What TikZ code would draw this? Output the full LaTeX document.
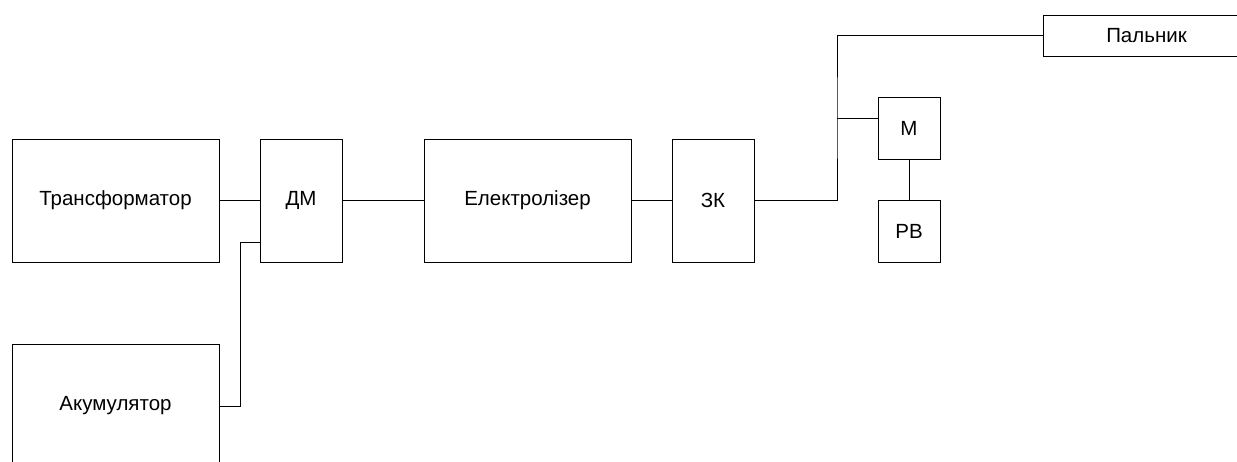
\documentclass[tikz,border=0pt]{standalone}
\usepackage{fontspec}
\setmainfont{Liberation Sans}
\usetikzlibrary{positioning}

\begin{document}
\begin{tikzpicture}[
          x=1pt, y=-1pt,
          font=\fontsize{20.5}{23}\selectfont,
          block/.style={draw, line width=1pt, minimum width=207pt, minimum height=123pt, inner sep=0pt, outer sep=0pt, anchor=center},
          narrow/.style={block, minimum width=82pt},
          square/.style={block, minimum width=62pt, minimum height=62pt},
          wire/.style={line width=1pt}
        ]
        \useasboundingbox (0,0) rectangle (1237,461);
        \clip (0,0) rectangle (1237,461);

        % -------- Main chain --------
        \node[block] (trans) at (115.5,200.5) {Трансформатор};
        \node[narrow, right=41pt of trans] (dm) {ДМ};
        \node[block, right=82pt of dm] (elec) {Електролізер};
        \node[narrow, right=41pt of elec] (zk) {ЗК};

        % -------- Battery --------
        \node[block, minimum height=124pt] (bat) at (115.5,406) {Акумулятор};

        % -------- Right side --------
        \node[block, minimum height=41pt] (torch) at (1146.5,35.5) {Пальник};
        \node[square] (m) at (909,128) {М};
        \node[square, below=41pt of m] (rv) {РВ};

        % -------- Connectors --------
        \draw[wire] (trans) -- (dm);
        \draw[wire] (dm) -- (elec);
        \draw[wire] (elec) -- (zk);

        \coordinate (bend) at (837,118);
        \draw[wire] (zk.east) -| (bend) |- (torch.west);
        \draw[wire] (bend) -- (bend -| m.west);
        \draw[wire] (m) -- (rv);

        \coordinate (dmin) at ([yshift=-41.5pt]dm.west);
        \draw[wire] (bat.east) -- ++(21,0) |- (dmin);

      \end{tikzpicture}
\end{document}
